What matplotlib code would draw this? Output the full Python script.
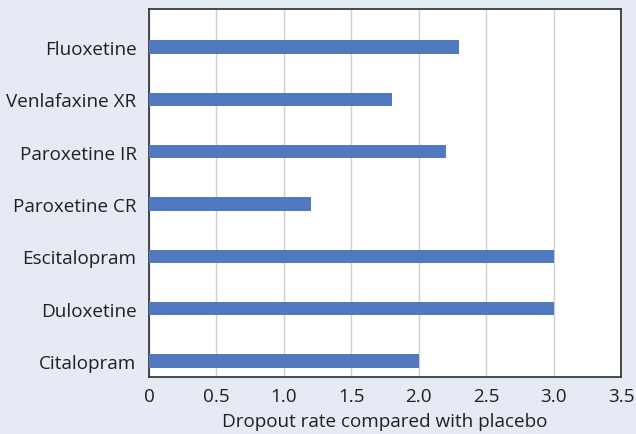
import matplotlib
matplotlib.use("Agg")
import matplotlib.pyplot as plt
import numpy as np

drugs = ["Citalopram", "Duloxetine", "Escitalopram", "Paroxetine CR",
         "Paroxetine IR", "Venlafaxine XR", "Fluoxetine"]
dropout_rate = [2.0, 3.0, 3.0, 1.2, 2.2, 1.8, 2.3]
x_ticks = [0, 0.5, 1.0, 1.5, 2.0, 2.5, 3.0, 3.5]
x_tick_labels = ["0", "0.5", "1.0", "1.5", "2.0", "2.5", "3.0", "3.5"]

bg = "#E6EAF5"
text_col = "#231F20"
bar_col = "#5079BF"

plt.rcParams["font.family"] = ["Open Sans", "DejaVu Sans"]

fig = plt.figure(figsize=(6.36, 4.35), dpi=100, facecolor=bg)
ax = fig.add_axes([0.2343, 0.131, 0.7421, 0.846])
ax.set_facecolor("white")

pos = np.arange(len(drugs))
ax.barh(pos, dropout_rate, height=0.25, color=bar_col, zorder=3)

ax.set_xlim(0, 3.5)
ax.set_ylim(-0.306, 6.726)
ax.set_xticks(x_ticks)
ax.set_xticklabels(x_tick_labels)
ax.set_yticks(pos)
ax.set_yticklabels(drugs)
ax.tick_params(axis="both", length=0, labelsize=13.6, labelcolor=text_col)
ax.tick_params(axis="x", pad=7)
ax.tick_params(axis="y", pad=9)

ax.grid(axis="x", color="#CFCFCF", linewidth=1.0, zorder=0)
ax.grid(axis="y", visible=False)

for s in ax.spines.values():
    s.set_color("#3A3A3A")
    s.set_linewidth(1.3)

ax.set_xlabel("Dropout rate compared with placebo", fontsize=13.6,
              color=text_col, labelpad=5)

fig.savefig("out.png", dpi=100, facecolor=bg)
